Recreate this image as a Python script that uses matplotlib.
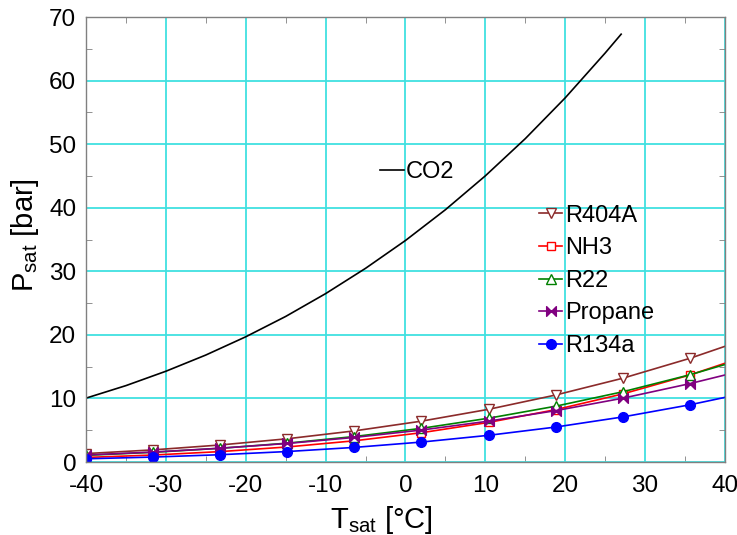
import numpy as np
import matplotlib.pyplot as plt
from matplotlib.path import Path
from matplotlib.ticker import MultipleLocator

plt.rcParams['font.family'] = ['Liberation Sans', 'DejaVu Sans']
plt.rcParams['axes.unicode_minus'] = False

# CO2 saturation curve (no markers)
t_co2 = [-40, -35, -30, -25, -20, -15, -10, -5, 0, 5, 10, 15, 20, 25, 27]
p_co2 = [10.05, 12.02, 14.28, 16.83, 19.70, 22.90, 26.49, 30.47, 34.85, 39.69,
         45.02, 50.87, 57.29, 64.34, 67.3]

# refrigerants, read at the marker temperatures (+ end point at 40)
t_ref = [-40, -31.6, -23.2, -14.8, -6.4, 2.0, 10.4, 18.8, 27.2, 35.6, 40]
p_r404a = [1.33, 1.91, 2.68, 3.66, 4.90, 6.43, 8.29, 10.54, 13.18, 16.31, 18.2]
p_nh3 = [0.72, 1.10, 1.64, 2.37, 3.34, 4.61, 6.23, 8.24, 10.71, 13.69, 15.54]
p_r22 = [1.05, 1.53, 2.16, 2.97, 4.01, 5.30, 6.89, 8.78, 11.05, 13.72, 15.34]
p_propane = [1.11, 1.57, 2.17, 2.92, 3.87, 5.03, 6.43, 8.08, 10.04, 12.33, 13.69]
p_r134a = [0.51, 0.78, 1.15, 1.65, 2.30, 3.14, 4.20, 5.50, 7.09, 9.00, 10.17]

# bowtie marker for propane
bowtie = Path([(-1, -1), (0, 0), (-1, 1), (-1, -1), (1, -1), (0, 0), (1, 1), (1, -1)],
              [Path.MOVETO, Path.LINETO, Path.LINETO, Path.CLOSEPOLY,
               Path.MOVETO, Path.LINETO, Path.LINETO, Path.CLOSEPOLY])

fig = plt.figure(figsize=(7.37, 5.35), dpi=100)
ax = fig.add_axes([0.1167, 0.1364, 0.8670, 0.8318])

lw = 1.2
ms = 7
mk = slice(0, 10)

l_co2, = ax.plot(t_co2, p_co2, color='black', linewidth=lw, label='CO2')
ax.plot(t_ref, p_r404a, color='#8b2a2a', linewidth=lw, marker='v', markersize=ms,
        markerfacecolor='white', markeredgecolor='#8b2a2a', markevery=mk, label='R404A')
ax.plot(t_ref, p_nh3, color='red', linewidth=lw, marker='s', markersize=ms - 1,
        markerfacecolor='white', markeredgecolor='red', markevery=mk, label='NH3')
ax.plot(t_ref, p_r22, color='green', linewidth=lw, marker='^', markersize=ms,
        markerfacecolor='white', markeredgecolor='green', markevery=mk, label='R22')
ax.plot(t_ref, p_propane, color='purple', linewidth=lw, marker=bowtie, markersize=ms,
        markerfacecolor='purple', markeredgecolor='purple', markevery=mk, label='Propane')
ax.plot(t_ref, p_r134a, color='blue', linewidth=lw, marker='o', markersize=ms,
        markerfacecolor='blue', markeredgecolor='blue', markevery=mk, label='R134a')

ax.set_xlim(-40, 40)
ax.set_ylim(0, 70)
ax.xaxis.set_major_locator(MultipleLocator(10))
ax.xaxis.set_minor_locator(MultipleLocator(5))
ax.yaxis.set_major_locator(MultipleLocator(10))
ax.yaxis.set_minor_locator(MultipleLocator(5))
ax.tick_params(which='both', direction='in', top=True, right=True, labelsize=17.5,
               color='#808080')
ax.tick_params(which='major', length=0, pad=7)
ax.tick_params(axis='x', which='major', pad=9)
ax.tick_params(which='minor', length=4)
ax.grid(which='major', color='#40e0e0', linewidth=1.3)
ax.set_axisbelow(True)
for s in ax.spines.values():
    s.set_color('#808080')
    s.set_linewidth(1.0)

ax.set_xlabel('T$_{\\mathregular{sat}}$ [°C]', fontsize=21)
ax.set_ylabel('P$_{\\mathregular{sat}}$ [bar]', fontsize=21)
ax.xaxis.set_label_coords(0.462, -0.095)
ax.yaxis.set_label_coords(-0.07, 0.51)

handles, labels = ax.get_legend_handles_labels()
leg1 = ax.legend(handles[1:], labels[1:], loc='upper left', bbox_to_anchor=(0.69, 0.605),
                 frameon=False, fontsize=17, handlelength=1.0, handletextpad=0.1,
                 labelspacing=0.45, borderpad=0)
ax.add_artist(leg1)
ax.legend([l_co2], ['CO2'], loc='upper left', bbox_to_anchor=(0.442, 0.703),
          frameon=False, fontsize=17, handlelength=1.0, handletextpad=0.1, borderpad=0)

fig.savefig('out.png', dpi=100)
